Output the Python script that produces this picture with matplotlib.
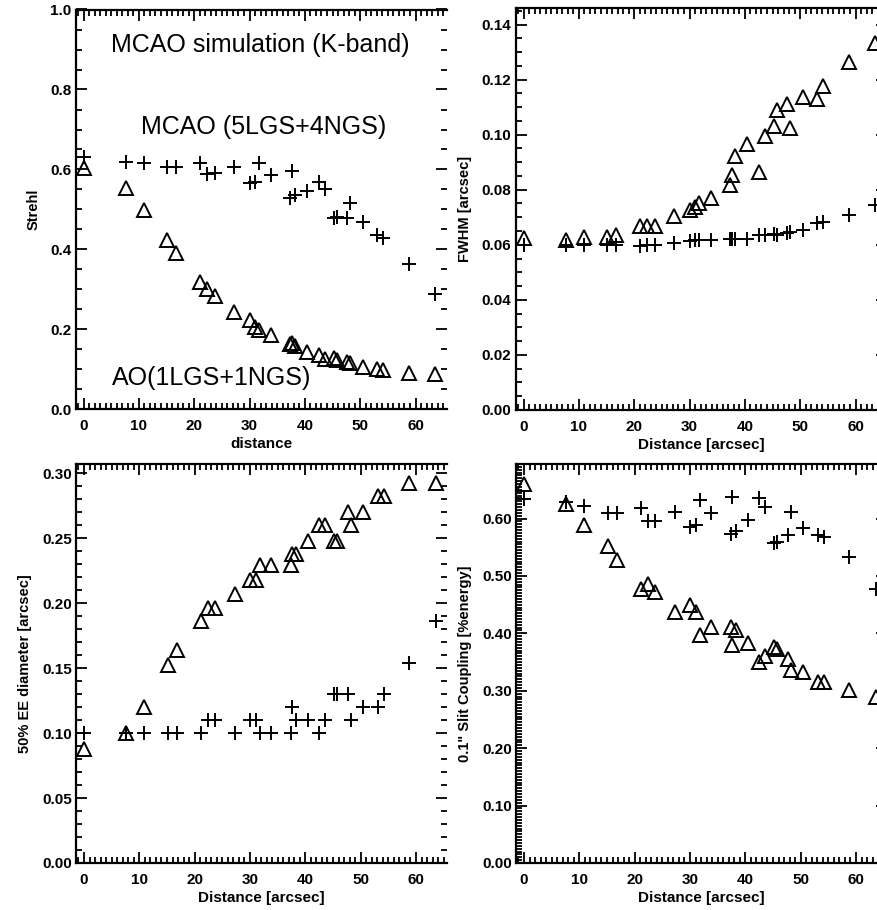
import matplotlib
matplotlib.use("Agg")
import matplotlib.pyplot as plt
from matplotlib.ticker import MultipleLocator, FormatStrFormatter

plt.rcParams['font.family'] = ['Liberation Sans', 'DejaVu Sans']

# distance of each star from field centre [arcsec]
dist = [0, 7.6, 10.9, 15.1, 16.8, 21.1, 22.4, 23.7, 27.2, 30.0, 31.0, 31.8, 33.8, 37.4,
        37.6, 38.3, 40.4, 42.5, 43.6, 45.2, 45.8, 47.7, 48.2, 50.5, 53.1, 54.2, 58.8, 63.6]

# Strehl
strehl_mcao = [0.630, 0.618, 0.616, 0.607, 0.607, 0.616, 0.590, 0.592, 0.607, 0.566, 0.570, 0.616,
               0.586, 0.528, 0.596, 0.535, 0.547, 0.570, 0.550, 0.478, 0.480, 0.478, 0.515, 0.469,
               0.436, 0.428, 0.365, 0.290]
strehl_ao = [0.603, 0.553, 0.499, 0.424, 0.390, 0.319, 0.302, 0.283, 0.244, 0.223, 0.206, 0.198,
             0.187, 0.163, 0.165, 0.158, 0.144, 0.135, 0.127, 0.129, 0.123, 0.119, 0.115, 0.106,
             0.102, 0.098, 0.091, 0.088]

# FWHM [arcsec]
fwhm_mcao = [0.0600, 0.0600, 0.0600, 0.0600, 0.0600, 0.0596, 0.0598, 0.0598, 0.0606, 0.0614,
             0.0616, 0.0616, 0.0616, 0.0620, 0.0622, 0.0620, 0.0622, 0.0636, 0.0636, 0.0638,
             0.0636, 0.0642, 0.0645, 0.0655, 0.0679, 0.0681, 0.0709, 0.0745]
fwhm_ao = [0.0624, 0.0618, 0.0630, 0.0630, 0.0636, 0.0667, 0.0667, 0.0667, 0.0703, 0.0727,
           0.0739, 0.0751, 0.0770, 0.0818, 0.0855, 0.0921, 0.0967, 0.0864, 0.0994, 0.1033,
           0.1090, 0.1110, 0.1024, 0.1137, 0.1130, 0.1178, 0.1263, 0.1333]

# 50% EE diameter [arcsec]
ee_mcao = [0.10, 0.10, 0.10, 0.10, 0.10, 0.10, 0.11, 0.11, 0.10, 0.11, 0.11, 0.10, 0.10, 0.10,
           0.12, 0.11, 0.11, 0.10, 0.11, 0.13, 0.13, 0.13, 0.11, 0.12, 0.12, 0.13, 0.154, 0.186]
ee_ao = [0.088, 0.100, 0.120, 0.152, 0.164, 0.186, 0.196, 0.196, 0.207, 0.218, 0.218, 0.229,
         0.229, 0.229, 0.238, 0.238, 0.248, 0.260, 0.260, 0.248, 0.248, 0.270, 0.260, 0.270,
         0.282, 0.282, 0.292, 0.292]

# 0.1" slit coupling [%energy]
slit_mcao = [0.634, 0.628, 0.621, 0.610, 0.610, 0.618, 0.595, 0.595, 0.612, 0.586, 0.588, 0.633,
             0.610, 0.573, 0.637, 0.579, 0.598, 0.635, 0.620, 0.558, 0.560, 0.571, 0.611, 0.583,
             0.571, 0.567, 0.533, 0.478]
slit_ao = [0.660, 0.625, 0.588, 0.552, 0.527, 0.478, 0.486, 0.472, 0.438, 0.449, 0.437, 0.397,
           0.411, 0.411, 0.379, 0.405, 0.383, 0.350, 0.360, 0.376, 0.373, 0.356, 0.336, 0.333,
           0.315, 0.315, 0.301, 0.290]

W, H = 877, 910
fig = plt.figure(figsize=(W / 100, H / 100), dpi=100)


def make_panel(left, top, bottom, ymax, ymajor, yminor, yfmt, mcao, ao, ylabel, xlabel, cut_right):
    ax = fig.add_axes([left / W, 1 - bottom / H, 371 / W, (bottom - top) / H])
    ax.plot(dist, ao, linestyle='none', marker='^', ms=10, mfc='none', mec='black', mew=1.4)
    ax.plot(dist, mcao, linestyle='none', marker='+', ms=10, mec='black', mew=1.4)
    ax.set_xlim(-1.45, 65.6)
    ax.set_ylim(0, ymax)
    ax.xaxis.set_major_locator(MultipleLocator(10))
    ax.xaxis.set_minor_locator(MultipleLocator(1))
    ax.yaxis.set_major_locator(MultipleLocator(ymajor))
    ax.yaxis.set_minor_locator(MultipleLocator(yminor))
    ax.yaxis.set_major_formatter(FormatStrFormatter(yfmt))
    ax.tick_params(which='both', direction='in', top=True, right=True, width=1.3)
    ax.tick_params(which='major', length=8)
    ax.tick_params(which='minor', length=4)
    ax.tick_params(axis='x', pad=7)
    ax.tick_params(axis='y', pad=3)
    for lab in ax.get_xticklabels() + ax.get_yticklabels():
        lab.set_fontweight('bold')
        lab.set_fontsize(11)
    for s in ax.spines.values():
        s.set_linewidth(1.6)
    if cut_right:
        ax.spines['right'].set_visible(False)
    ax.set_xlabel(xlabel, fontsize=11, fontweight='bold', labelpad=3)
    ax.set_ylabel(ylabel, fontsize=10.5, fontweight='bold', labelpad=7)
    return ax


ax1 = make_panel(75.5, 9.5, 409.5, 1.0, 0.2, 0.05, '%.1f', strehl_mcao, strehl_ao,
                 'Strehl', 'distance', True)
ax1.text(4.9, 0.912, 'MCAO simulation (K-band)', fontsize=18, va='center')
ax1.text(10.3, 0.707, 'MCAO (5LGS+4NGS)', fontsize=18, va='center')
ax1.text(5.2, 0.078, 'AO(1LGS+1NGS)', fontsize=18, va='center')

make_panel(515.5, 8, 410, 0.146, 0.02, 0.005, '%.2f', fwhm_mcao, fwhm_ao,
           'FWHM [arcsec]', 'Distance [arcsec]', False)
make_panel(76, 464, 863, 0.307, 0.05, 0.01, '%.2f', ee_mcao, ee_ao,
           '50% EE diameter [arcsec]', 'Distance [arcsec]', True)
make_panel(516, 464, 863, 0.695, 0.1, 0.005, '%.2f', slit_mcao, slit_ao,
           '0.1" Slit Coupling [%energy]', 'Distance [arcsec]', False)

fig.savefig('out.png', dpi=100)
